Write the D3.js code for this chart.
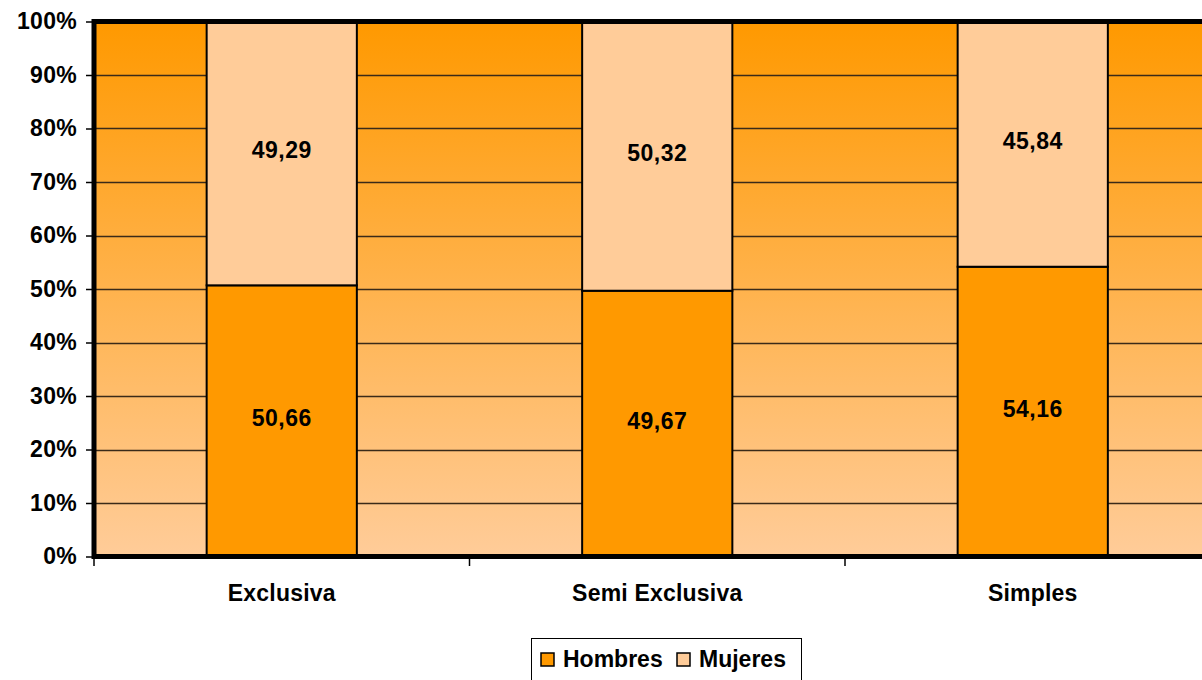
<!DOCTYPE html>
<html lang="es">
<head>
  <meta charset="UTF-8">
  <title>Hombres / Mujeres</title>
  <script src="https://cdn.jsdelivr.net/npm/d3@7"></script>
  <style>
    body { margin: 0; background: #fff; }
    text { font-family: "Liberation Sans", Arial, sans-serif; font-weight: bold; fill: #000; }
  </style>
</head>
<body>
<script>
  // data
  var categories = ["Exclusiva", "Semi Exclusiva", "Simples"];
  var hombres = [50.66, 49.67, 54.16];
  var mujeres = [49.29, 50.32, 45.84];
  var seriesNames = ["Hombres", "Mujeres"];
  var yTicks = [0, 0.1, 0.2, 0.3, 0.4, 0.5, 0.6, 0.7, 0.8, 0.9, 1];

  var w = 1202, h = 680;
  var colors = { Hombres: "#FF9900", Mujeres: "#FFCC99" };

  var rows = categories.map(function(c, i) {
    return { cat: c, Hombres: hombres[i], Mujeres: mujeres[i] };
  });
  var stacked = d3.stack().keys(seriesNames).offset(d3.stackOffsetExpand)(rows);

  var comma = d3.formatLocale({ decimal: ",", thousands: ".", grouping: [3], currency: ["", ""] }).format(".2f");

  // scales (plot runs past the right edge of the picture)
  var x = d3.scaleBand().domain(categories).range([94, 1220.5]).paddingInner(0).paddingOuter(0);
  var y = d3.scaleLinear().domain([0, 1]).range([556.5, 21.5]);
  var barW = x.bandwidth() * 0.4;

  var svg = d3.select("body").append("svg")
    .attr("width", w).attr("height", h);

  var grad = svg.append("defs").append("linearGradient")
    .attr("id", "bg").attr("x1", 0).attr("y1", 0).attr("x2", 0).attr("y2", 1);
  grad.append("stop").attr("offset", "0%").attr("stop-color", "#FF9900");
  grad.append("stop").attr("offset", "100%").attr("stop-color", "#FFCC99");

  // plot background
  svg.append("rect")
    .attr("x", x.range()[0]).attr("y", y(1))
    .attr("width", x.range()[1] - x.range()[0]).attr("height", y(0) - y(1))
    .attr("fill", "url(#bg)");

  // gridlines
  svg.append("g")
    .selectAll("line")
    .data(yTicks.slice(1, -1))
    .enter().append("line")
    .attr("x1", x.range()[0]).attr("x2", x.range()[1])
    .attr("y1", function(d) { return Math.round(y(d)) + 0.5; })
    .attr("y2", function(d) { return Math.round(y(d)) + 0.5; })
    .attr("stroke", "#3a2a18").attr("stroke-width", 1.4);

  // bars
  var layer = svg.append("g").selectAll("g")
    .data(stacked).enter().append("g")
    .attr("fill", function(d) { return colors[d.key]; });

  layer.selectAll("rect")
    .data(function(d) { return d; })
    .enter().append("rect")
    .attr("x", function(d) { return x(d.data.cat) + (x.bandwidth() - barW) / 2; })
    .attr("y", function(d) { return y(d[1]); })
    .attr("width", barW)
    .attr("height", function(d) { return y(d[0]) - y(d[1]); })
    .attr("stroke", "#000").attr("stroke-width", 2);

  // value labels
  stacked.forEach(function(s) {
    svg.append("g").selectAll("text")
      .data(s).enter().append("text")
      .attr("x", function(d) { return x(d.data.cat) + x.bandwidth() / 2; })
      .attr("y", function(d) { return (y(d[0]) + y(d[1])) / 2 + 5; })
      .attr("text-anchor", "middle")
      .style("font-size", "23px")
      .style("letter-spacing", "0.5px")
      .text(function(d) { return comma(d.data[s.key]); });
  });

  // plot border (thick black frame)
  svg.append("rect")
    .attr("x", x.range()[0]).attr("y", y(1))
    .attr("width", x.range()[1] - x.range()[0]).attr("height", y(0) - y(1))
    .attr("fill", "none").attr("stroke", "#000").attr("stroke-width", 5);

  // y axis
  var yAxis = d3.axisLeft(y).tickValues(yTicks).tickFormat(d3.format(".0%")).tickSize(6).tickPadding(9);
  var yg = svg.append("g").attr("transform", "translate(92,0)").call(yAxis);
  yg.select(".domain").remove();
  yg.selectAll(".tick line").attr("stroke", "#000").attr("stroke-width", 1.5);
  yg.selectAll(".tick text")
    .attr("dy", "0.32em")
    .style("font-size", "23px")
    .style("letter-spacing", "0.3px")
    .style("font-family", "'Liberation Sans', Arial, sans-serif")
    .style("font-weight", "bold");

  // x axis ticks at band edges
  var edges = categories.map(function(c) { return x(c); }).concat([x.range()[1]]);
  svg.append("g").selectAll("line")
    .data(edges).enter().append("line")
    .attr("x1", function(d) { return d; }).attr("x2", function(d) { return d; })
    .attr("y1", 559).attr("y2", 566)
    .attr("stroke", "#000").attr("stroke-width", 1.5);

  svg.append("g").selectAll("text")
    .data(categories).enter().append("text")
    .attr("x", function(d) { return x(d) + x.bandwidth() / 2; })
    .attr("y", 601)
    .attr("text-anchor", "middle")
    .style("font-size", "23px")
    .style("letter-spacing", "0.2px")
    .text(function(d) { return d; });

  // legend
  var lg = svg.append("g");
  lg.append("rect")
    .attr("x", 531.5).attr("y", 638.5).attr("width", 270).attr("height", 46)
    .attr("fill", "#fff").attr("stroke", "#000").attr("stroke-width", 1);
  var legX = [541, 677];
  seriesNames.forEach(function(n, i) {
    lg.append("rect")
      .attr("x", legX[i]).attr("y", 653).attr("width", 13).attr("height", 13)
      .attr("fill", colors[n]).attr("stroke", "#000").attr("stroke-width", 1.5);
    lg.append("text")
      .attr("x", legX[i] + 22).attr("y", 667)
      .style("font-size", "23px")
      .text(n);
  });
</script>
</body>
</html>
